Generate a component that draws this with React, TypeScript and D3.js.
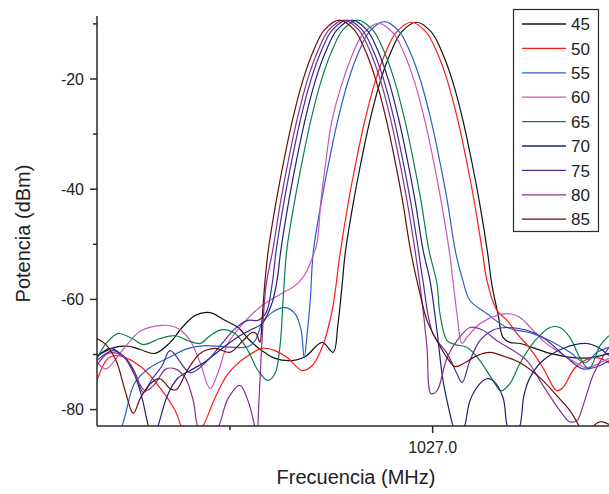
import React from "react";
import * as d3 from "d3";

// x values: offset from 1027.0 MHz in kHz; y values: dBm
const CENTER_MHZ = 1027.0;
const seriesLabels = ["45", "50", "55", "60", "65", "70", "75", "80", "85"];

const s45: [number, number][] = [[-165.6,-70.2],[-156.7,-68.7],[-150.2,-68.5],[-144.3,-69.1],[-136.9,-69.8],[-129.5,-67.8],[-123.6,-65.1],[-117.1,-62.9],[-109.8,-62.4],[-102.5,-63.8],[-96.0,-65.1],[-90.1,-67.5],[-84.2,-69.3],[-77.8,-70.7],[-69.4,-71.1],[-62.9,-70.4],[-54.5,-67.8],[-49.1,-69.6],[-46.7,-64.4],[-44.7,-57.5],[-43.1,-51.5],[-39.1,-42.4],[-35.4,-35.2],[-31.2,-27.9],[-26.0,-20.6],[-20.7,-15.2],[-15.4,-11.5],[-8.0,-9.7],[-0.6,-11.5],[4.7,-15.2],[10.0,-20.6],[15.2,-27.9],[19.4,-35.2],[23.1,-42.4],[27.1,-51.5],[29.3,-57.5],[32.2,-62.6],[34.7,-66.9],[38.1,-67.8],[43.1,-68.0],[57.9,-69.8],[70.2,-70.6],[77.6,-70.6],[87.0,-69.8]];
const s50: [number, number][] = [[-165.6,-74.7],[-160.2,-70.7],[-155.2,-70.2],[-143.3,-72.4],[-133.4,-76.6],[-127.0,-80.2],[-123.1,-83.8],[-118.6,-85.6],[-113.2,-82.9],[-107.3,-77.8],[-101.0,-73.5],[-92.6,-70.6],[-84.2,-68.9],[-77.8,-69.3],[-71.3,-70.7],[-64.4,-72.9],[-59.4,-72.0],[-54.5,-68.7],[-51.5,-65.1],[-49.1,-61.1],[-45.6,-51.5],[-41.6,-42.4],[-37.9,-35.2],[-33.7,-27.9],[-28.5,-20.6],[-23.2,-15.2],[-17.9,-11.5],[-10.5,-9.7],[-3.2,-11.5],[2.2,-15.2],[7.5,-20.6],[12.7,-27.9],[16.9,-35.2],[20.6,-42.4],[24.6,-51.5],[26.8,-56.6],[31.7,-62.0],[36.7,-63.8],[41.6,-66.2],[48.0,-68.9],[54.4,-72.4],[61.3,-76.6],[64.3,-76.0],[70.2,-72.4],[77.6,-70.7],[82.6,-70.7],[87.0,-71.5]];
const s55: [number, number][] = [[-158.2,-86.2],[-153.2,-82.9],[-147.2,-75.3],[-140.3,-72.6],[-130.4,-70.6],[-120.6,-68.9],[-112.2,-68.4],[-102.5,-68.6],[-91.1,-68.6],[-87.6,-67.5],[-84.2,-64.4],[-79.3,-62.4],[-72.8,-61.5],[-67.9,-62.6],[-64.9,-65.6],[-63.4,-70.6],[-61.9,-66.2],[-60.4,-60.2],[-58.9,-51.4],[-54.9,-42.3],[-51.2,-35.1],[-47.0,-27.8],[-41.8,-20.5],[-36.5,-15.1],[-31.2,-11.4],[-23.8,-9.6],[-16.5,-11.4],[-11.1,-15.1],[-5.8,-20.5],[-0.6,-27.8],[3.6,-35.1],[7.3,-42.3],[11.3,-51.4],[14.9,-56.6],[18.4,-60.2],[26.8,-62.6],[36.7,-65.1],[49.5,-66.2],[57.9,-67.5],[67.7,-69.6],[75.2,-71.5],[81.1,-69.6],[87.0,-68.7]];
const s60: [number, number][] = [[-165.6,-71.3],[-161.2,-72.6],[-153.2,-69.3],[-144.3,-65.8],[-133.4,-64.7],[-125.5,-65.3],[-119.6,-67.5],[-114.7,-71.5],[-109.8,-76.2],[-105.9,-73.3],[-101.0,-68.0],[-92.6,-64.0],[-84.2,-61.1],[-74.3,-58.9],[-67.9,-57.5],[-64.4,-56.2],[-61.9,-54.7],[-59.4,-52.5],[-57.1,-49.8],[-55.1,-42.0],[-52.6,-34.7],[-49.9,-27.9],[-44.7,-20.8],[-39.4,-15.4],[-34.1,-11.7],[-26.7,-9.9],[-19.4,-11.7],[-14.0,-15.4],[-8.7,-20.8],[-3.5,-28.1],[0.7,-35.4],[4.4,-42.6],[8.4,-51.7],[10.0,-56.6],[12.0,-62.6],[14.5,-68.0],[16.9,-66.9],[23.3,-64.4],[31.7,-62.9],[38.1,-62.6],[43.1,-63.3],[49.5,-65.6],[55.4,-67.8],[61.3,-69.3],[71.2,-71.6],[76.1,-72.4],[82.6,-71.5],[87.0,-70.7]];
const s65: [number, number][] = [[-165.6,-70.7],[-160.7,-67.8],[-155.2,-66.2],[-148.2,-67.1],[-142.8,-68.2],[-134.5,-67.1],[-127.0,-66.6],[-120.6,-67.5],[-114.7,-68.0],[-109.8,-66.6],[-103.9,-65.5],[-97.5,-66.2],[-91.1,-69.3],[-86.2,-72.9],[-81.3,-74.7],[-77.8,-73.5],[-75.3,-68.4],[-73.8,-60.2],[-72.0,-51.1],[-68.0,-42.0],[-64.3,-34.8],[-60.1,-27.5],[-54.9,-20.2],[-49.6,-14.8],[-44.3,-11.1],[-36.9,-9.3],[-29.6,-11.1],[-24.2,-14.8],[-18.9,-20.2],[-13.7,-27.5],[-9.5,-34.8],[-5.8,-42.0],[-1.8,-51.1],[2.1,-57.1],[3.6,-62.6],[7.1,-67.5],[11.0,-68.2],[16.9,-68.7],[23.3,-71.1],[29.7,-74.7],[33.7,-76.6],[38.1,-75.3],[43.1,-71.6],[50.5,-67.5],[57.9,-65.1],[62.8,-65.1],[67.7,-66.9],[72.7,-70.6],[77.1,-72.6],[82.6,-68.4],[87.0,-66.6]];
const s70: [number, number][] = [[-165.6,-70.4],[-159.2,-68.9],[-154.2,-69.8],[-149.2,-72.0],[-144.3,-76.6],[-140.3,-82.9],[-137.9,-85.6],[-135.4,-82.9],[-130.9,-77.5],[-126.0,-74.4],[-119.6,-72.9],[-112.2,-71.3],[-103.9,-68.9],[-96.5,-66.9],[-90.1,-65.6],[-84.2,-64.4],[-79.3,-60.7],[-76.8,-56.6],[-74.9,-51.1],[-70.9,-42.0],[-67.2,-34.8],[-63.0,-27.5],[-57.8,-20.2],[-52.5,-14.8],[-47.2,-11.1],[-39.8,-9.3],[-32.5,-11.1],[-27.1,-14.8],[-21.8,-20.2],[-16.6,-27.5],[-12.4,-34.8],[-8.7,-42.0],[-4.7,-51.1],[-1.3,-56.6],[2.1,-65.6],[5.1,-74.7],[8.5,-80.7],[10.0,-82.9],[13.0,-85.6],[15.9,-82.9],[18.4,-78.4],[23.3,-75.3],[26.8,-74.4],[29.7,-74.7],[34.7,-77.8],[36.7,-82.9],[39.6,-85.6],[43.1,-82.9],[45.0,-77.5],[48.0,-74.2],[54.4,-71.1],[64.3,-68.9],[76.1,-68.0],[81.1,-68.6],[87.0,-70.2]];
const s75: [number, number][] = [[-165.6,-71.1],[-157.7,-69.3],[-151.7,-70.6],[-146.8,-73.3],[-142.8,-76.9],[-138.3,-74.4],[-133.4,-72.0],[-129.5,-69.3],[-119.6,-73.3],[-112.2,-71.5],[-103.9,-68.0],[-97.5,-65.3],[-91.1,-63.8],[-86.2,-63.8],[-82.2,-62.4],[-79.3,-57.5],[-77.2,-51.1],[-73.2,-42.0],[-69.5,-34.8],[-65.3,-27.5],[-60.1,-20.2],[-54.8,-14.8],[-49.5,-11.1],[-42.1,-9.3],[-34.8,-11.1],[-29.4,-14.8],[-24.1,-20.2],[-18.9,-27.5],[-14.7,-34.8],[-11.0,-42.0],[-7.0,-51.1],[-4.8,-56.6],[0.1,-66.2],[7.1,-69.8],[12.0,-73.5],[14.5,-75.1],[18.4,-71.1],[23.3,-67.5],[29.7,-65.6],[36.7,-65.1],[46.5,-65.6],[54.4,-66.9],[66.3,-70.6],[74.2,-72.6],[82.6,-72.0],[87.0,-71.1]];
const s80: [number, number][] = [[-165.6,-72.0],[-160.2,-69.8],[-153.2,-70.2],[-146.8,-73.8],[-141.8,-76.6],[-136.9,-75.3],[-131.9,-72.7],[-127.0,-72.6],[-122.1,-74.2],[-118.1,-78.4],[-115.7,-83.3],[-110.8,-85.6],[-105.9,-83.3],[-101.0,-78.0],[-95.1,-75.6],[-91.1,-78.4],[-87.6,-83.3],[-86.7,-84.7],[-85.7,-78.4],[-84.2,-67.5],[-82.2,-57.5],[-78.9,-51.1],[-74.9,-42.0],[-71.2,-34.8],[-67.0,-27.5],[-61.8,-20.2],[-56.5,-14.8],[-51.2,-11.1],[-43.8,-9.3],[-36.5,-11.1],[-31.1,-14.8],[-25.8,-20.2],[-20.6,-27.5],[-16.4,-34.8],[-12.7,-42.0],[-8.7,-51.1],[-5.3,-60.2],[-2.8,-68.7],[-0.8,-77.1],[2.1,-76.6],[7.1,-70.6],[12.0,-67.5],[18.4,-65.1],[24.8,-65.6],[31.7,-67.5],[38.1,-68.9],[46.5,-71.1],[54.4,-75.6],[62.8,-80.2],[67.7,-82.2],[71.2,-82.0],[74.2,-79.3],[79.1,-73.8],[84.0,-70.4],[87.0,-68.7]];
const s85: [number, number][] = [[-165.6,-67.1],[-161.2,-68.2],[-156.2,-71.1],[-151.7,-76.6],[-147.7,-80.7],[-144.3,-78.0],[-139.3,-75.3],[-134.5,-74.4],[-129.5,-76.2],[-126.5,-76.4],[-121.1,-72.9],[-114.7,-69.8],[-107.3,-68.9],[-100.0,-69.6],[-93.6,-67.5],[-89.1,-66.0],[-87.1,-66.2],[-85.2,-67.8],[-84.2,-63.8],[-82.7,-56.6],[-81.1,-51.1],[-77.1,-42.0],[-73.4,-34.8],[-69.2,-27.5],[-64.0,-20.2],[-58.7,-14.8],[-53.4,-11.1],[-46.0,-9.3],[-38.7,-11.1],[-33.3,-14.8],[-28.0,-20.2],[-22.8,-27.5],[-18.6,-34.8],[-14.9,-42.0],[-10.9,-51.1],[-6.3,-58.9],[-2.8,-63.8],[2.1,-67.5],[7.1,-70.6],[11.0,-72.2],[15.9,-71.5],[21.9,-70.2],[28.3,-69.6],[35.7,-70.4],[43.1,-71.5],[52.9,-74.2],[61.3,-77.5],[67.7,-80.2],[72.7,-83.3],[75.7,-85.6],[78.6,-83.3],[82.6,-82.2],[87.0,-82.7]];

const seriesData = [s45, s50, s55, s60, s65, s70, s75, s80, s85];

const yMajorTicks = [-80, -60, -40, -20];
const yMinorTicks = [-70, -50, -30, -10];
const xMajorTicks = [1027.0];
const xMinorTicks = [1026.9];

const COLORS = ["#111111", "#ff1a1a", "#2b5fc8", "#c658b8", "#0b8048", "#1b2478", "#4a2c9e", "#84338f", "#6e0b0b"];
const FONT = "'Liberation Sans', Arial, Helvetica, sans-serif";

export default function App() {
  const L = 97, R = 609, T = 16, B = 426;
  const x = d3.scaleLinear().domain([1026.8344, 1027.087]).range([L, R]);
  const y = d3.scaleLinear().domain([-20, -80]).range([79, 409.6]);
  const line = d3
    .line<[number, number]>()
    .x((d) => x(CENTER_MHZ + d[0] / 1000))
    .y((d) => y(d[1]))
    .curve(d3.curveCatmullRom.alpha(0.5));
  const fmt = d3.format(".1f");
  const axisColor = "#2a2a2a";

  return (
    <svg
      width={609}
      height={494}
      style={{ position: "absolute", left: 0, top: 0, background: "#fff", overflow: "hidden" }}
      fontFamily={FONT}
    >
      <defs>
        <clipPath id="plotClip">
          <rect x={L} y={T} width={R - L} height={B - T} />
        </clipPath>
      </defs>
      <g clipPath="url(#plotClip)">
        {seriesData.map((s, i) => (
          <path key={i} d={line(s) || ""} fill="none" stroke={COLORS[i]} strokeWidth={1.2} />
        ))}
      </g>
      {/* axes */}
      <line x1={L} x2={L} y1={T} y2={B} stroke={axisColor} strokeWidth={1.5} />
      <line x1={L} x2={R} y1={B} y2={B} stroke={axisColor} strokeWidth={1.5} />
      {yMajorTicks.map((t) => (
        <g key={"ym" + t}>
          <line x1={L - 7} x2={L} y1={y(t)} y2={y(t)} stroke={axisColor} strokeWidth={1.5} />
          <text x={84} y={y(t)} dy="0.36em" textAnchor="end" fontSize={16} fill="#222">
            {t}
          </text>
        </g>
      ))}
      {yMinorTicks.map((t) => (
        <line key={"yn" + t} x1={L - 4} x2={L} y1={y(t)} y2={y(t)} stroke={axisColor} strokeWidth={1.5} />
      ))}
      {xMajorTicks.map((t) => (
        <g key={"xm" + t}>
          <line x1={x(t)} x2={x(t)} y1={B} y2={B + 7} stroke={axisColor} strokeWidth={1.5} />
          <text x={x(t)} y={453} textAnchor="middle" fontSize={16} fill="#222">
            {fmt(t)}
          </text>
        </g>
      ))}
      {xMinorTicks.map((t) => (
        <line key={"xn" + t} x1={x(t)} x2={x(t)} y1={B} y2={B + 4} stroke={axisColor} strokeWidth={1.5} />
      ))}
      <text x={356} y={484} textAnchor="middle" fontSize={20} fill="#222">
        Frecuencia (MHz)
      </text>
      <text transform="translate(30,233.5) rotate(-90)" textAnchor="middle" fontSize={20} fill="#222">
        Potencia (dBm)
      </text>
      {/* legend */}
      <rect x={513.5} y={9.5} width={85} height={222} fill="#fff" stroke={axisColor} strokeWidth={1.2} />
      {seriesLabels.map((lab, i) => {
        const ly = 24 + i * 24.4;
        return (
          <g key={lab}>
            <line x1={522} x2={566} y1={ly} y2={ly} stroke={COLORS[i]} strokeWidth={1.3} />
            <text x={571} y={ly} dy="0.36em" fontSize={17} fill="#222">
              {lab}
            </text>
          </g>
        );
      })}
    </svg>
  );
}
